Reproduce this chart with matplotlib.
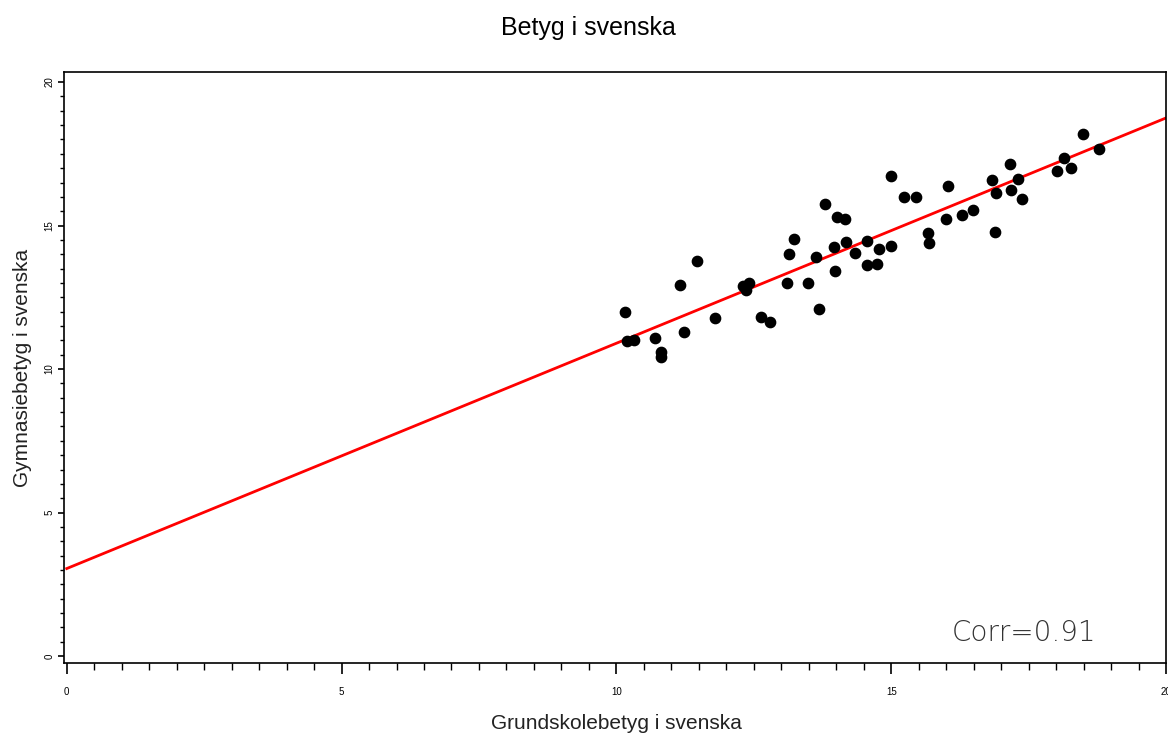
import numpy as np
import matplotlib.pyplot as plt
from matplotlib.ticker import MultipleLocator

# grundskolebetyg / gymnasiebetyg per elev
grund = [10.15, 10.19, 10.32, 10.70, 10.81, 10.81, 11.23, 11.16, 11.46, 11.79,
         12.30, 12.41, 12.36, 12.63, 12.79, 13.14, 13.23, 13.10, 13.49, 13.69,
         13.63, 13.79, 14.01, 14.16, 13.96, 14.18, 13.98, 14.34, 14.56, 14.56,
         14.74, 14.78, 15.00, 15.00, 15.23, 15.45, 16.03, 15.67, 15.69, 16.00,
         16.29, 16.49, 16.83, 16.91, 16.89, 17.16, 17.31, 17.18, 17.38, 18.02,
         18.14, 18.27, 18.49, 18.78]
gymn = [11.99, 10.98, 11.01, 11.08, 10.59, 10.42, 11.29, 12.93, 13.76, 11.78,
        12.89, 13.00, 12.75, 11.81, 11.64, 14.01, 14.53, 13.00, 13.00, 12.09,
        13.90, 15.75, 15.30, 15.23, 14.25, 14.43, 13.41, 14.04, 14.46, 13.62,
        13.66, 14.18, 14.29, 16.72, 15.99, 15.99, 16.38, 14.74, 14.39, 15.23,
        15.37, 15.54, 16.59, 16.13, 14.77, 17.14, 16.62, 16.24, 15.92, 16.90,
        17.35, 17.00, 18.19, 17.67]

# regressionslinje
intercept = 3.05
slope = 0.785
corr = 0.91

plt.rcParams['font.family'] = ['Liberation Sans', 'DejaVu Sans']

fig = plt.figure(figsize=(11.68, 7.35), dpi=100)
ax = fig.add_axes([0.0548, 0.098, 0.9435, 0.804])

xs = np.array([0, 20])
ax.plot(xs, intercept + slope * xs, color='red', lw=2, zorder=2)
ax.scatter(grund, gymn, s=55, color='black', zorder=3)

ax.set_xlim(-0.05, 20)
ax.set_ylim(-0.24, 20.35)

ax.xaxis.set_major_locator(MultipleLocator(5))
ax.xaxis.set_minor_locator(MultipleLocator(0.5))
ax.yaxis.set_major_locator(MultipleLocator(5))
ax.yaxis.set_minor_locator(MultipleLocator(0.5))

ax.tick_params(axis='x', which='major', length=8, width=1.2, labelsize=7, pad=9)
ax.tick_params(axis='x', which='minor', length=5, width=1)
ax.tick_params(axis='y', which='major', length=4, width=1.2, labelsize=7, pad=3)
ax.tick_params(axis='y', which='minor', length=3, width=1)
for lab in ax.get_yticklabels():
    lab.set_rotation(90)
    lab.set_va('center')

for sp in ax.spines.values():
    sp.set_linewidth(1.2)

fig.text(0.528, 0.016, 'Grundskolebetyg i svenska', fontsize=15,
         color='#222222', ha='center', va='center')
fig.text(0.019, 0.5, 'Gymnasiebetyg i svenska', fontsize=15,
         color='#222222', ha='center', va='center', rotation=90)
fig.text(0.504, 0.962, 'Betyg i svenska', fontsize=18, ha='center', va='center')

ax.text(0.937, 0.051, f'Corr={corr}', transform=ax.transAxes, ha='right',
        va='center', fontsize=20, color='#333333', family='DejaVu Sans',
        fontweight='light')

fig.savefig('out.png', dpi=100)
